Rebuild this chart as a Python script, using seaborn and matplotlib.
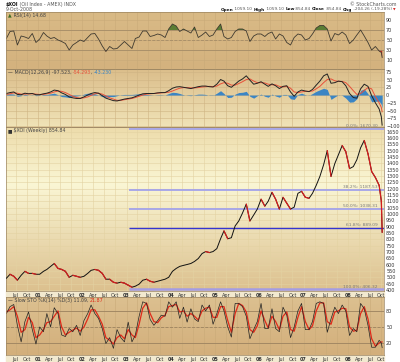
import matplotlib
matplotlib.use("Agg")
import matplotlib.pyplot as plt
import matplotlib.transforms as mtrans
from matplotlib.colors import LinearSegmentedColormap
from matplotlib.patches import Rectangle
import numpy as np
import pandas as pd
import seaborn as sns

# $XOI weekly chart (about one reading per month)
months = pd.date_range("2000-04-01", periods=102, freq="MS") + pd.Timedelta(days=14)
dates = pd.DatetimeIndex(list(months) + [pd.Timestamp("2008-10-03"), pd.Timestamp("2008-10-10")])

close = [493, 525, 509, 478, 517, 548, 532, 532, 525,
         525, 548, 563, 587, 610, 571, 563, 548, 501, 517, 509, 501,
         509, 532, 556, 563, 556, 532, 486, 486, 462, 455, 462, 455,
         439, 423, 431, 447, 478, 486, 470, 462, 470, 478, 486, 501,
         548, 571, 587, 595, 602, 610, 626, 649, 688, 704, 696, 704,
         727, 805, 867, 805, 813, 906, 945, 1008, 1078, 945, 992, 1039,
         1117, 1062, 1101, 1171, 1117, 1039, 1132, 1085, 1039, 1054, 1163, 1179,
         1132, 1124, 1163, 1226, 1296, 1389, 1500, 1296, 1397, 1467, 1540, 1491,
         1358, 1374, 1428, 1522, 1580, 1475, 1335, 1288, 1226, 1101, 854.84]

rsi = [53, 67, 68, 40, 58, 56, 53, 63, 45,
       52, 65, 58, 53, 55, 50, 47, 43, 30, 40, 45, 50,
       47, 55, 62, 63, 52, 38, 27, 37, 32, 33, 40, 47,
       40, 33, 53, 56, 68, 68, 57, 59, 62, 60, 55, 72,
       82, 78, 67, 72, 68, 64, 76, 55, 60, 66, 57, 60,
       72, 82, 57, 52, 55, 67, 72, 72, 68, 47, 58, 62,
       62, 57, 63, 66, 52, 62, 58, 45, 40, 55, 62, 60,
       50, 53, 62, 74, 79, 79, 72, 48, 63, 60, 66, 60,
       43, 50, 60, 70, 58, 45, 30, 37, 28, 25, 14.68]

macd = [5, 8, 10, 2, 1, 6, 4, 5, 1,
        1, 4, 6, 10, 16, 14, 7, 2, -6, -9, -11, -11,
        -6, 0, 5, 8, 6, -2, -10, -14, -18, -19, -16, -13,
        -11, -9, -5, 0, 4, 5, 5, 5, 7, 8, 8, 14,
        22, 26, 27, 25, 23, 21, 24, 27, 29, 29, 27, 26,
        35, 50, 45, 30, 25, 35, 45, 52, 62, 48, 35, 38,
        43, 35, 28, 36, 30, 21, 28, 30, 10, -4, 10, 16,
        13, 11, 18, 32, 45, 62, 68, 38, 40, 45, 43, 30,
        5, -8, -10, 20, 35, 28, -2, -25, -45, -70, -97.523]

signal = [2, 4, 7, 6, 3, 3, 4, 4, 3,
          2, 2, 4, 6, 10, 13, 12, 8, 2, -4, -8, -10,
          -9, -6, -1, 4, 6, 3, -3, -9, -13, -17, -17, -15,
          -13, -11, -8, -4, 0, 3, 4, 5, 6, 7, 8, 9,
          13, 18, 22, 24, 24, 23, 23, 24, 26, 27, 28, 27,
          29, 36, 40, 38, 32, 32, 37, 43, 50, 52, 45, 40,
          40, 39, 35, 33, 33, 28, 26, 28, 22, 10, 8, 10,
          12, 12, 13, 20, 28, 40, 50, 52, 46, 44, 44, 40,
          28, 14, 2, 5, 15, 24, 20, -5, -25, -40, -54.293]

hist = [3, 4, 3, -4, -2, 3, 0, 1, -2,
        -1, 2, 2, 4, 6, 1, -5, -6, -8, -5, -3, -1,
        3, 6, 6, 4, 0, -5, -7, -5, -5, -2, 1, 2,
        2, 2, 3, 4, 4, 2, 1, 0, 1, 1, 0, 5,
        9, 8, 5, 1, -1, -2, 1, 3, 3, 2, -1, -1,
        6, 14, 5, -8, -7, 3, 8, 9, 12, -4, -10, -2,
        3, -4, -7, 3, -3, -7, 2, 2, -12, -14, 2, 6,
        1, -1, 5, 12, 17, 22, 18, -14, -6, 1, -1, -10,
        -23, -22, -12, 15, 20, 4, -22, -20, -20, -30, -43.230]

stoch_k = [75, 88, 92, 53, 22, 60, 78, 45, 18,
           50, 41, 75, 50, 86, 75, 35, 32, 47, 41, 53, 34,
           62, 75, 91, 75, 66, 47, 19, 30, 10, 45, 30, 22,
           59, 22, 35, 70, 97, 94, 64, 53, 62, 72, 70, 97,
           87, 97, 66, 87, 59, 84, 65, 60, 91, 80, 91, 55,
           75, 97, 80, 50, 31, 94, 94, 88, 70, 28, 45, 60,
           94, 47, 47, 84, 47, 41, 87, 72, 30, 50, 80, 94,
           45, 45, 60, 94, 97, 94, 40, 65, 87, 75, 91, 80,
           34, 47, 41, 94, 84, 53, 12, 12, 25, 20, 11.09]

stoch_d = [78, 82, 88, 70, 40, 45, 68, 58, 30,
           35, 45, 58, 60, 70, 80, 50, 35, 40, 44, 48, 42,
           50, 65, 82, 82, 70, 55, 30, 25, 18, 30, 35, 28,
           45, 35, 30, 55, 85, 95, 75, 60, 58, 67, 72, 88,
           90, 92, 78, 80, 70, 75, 70, 63, 80, 85, 87, 68,
           68, 88, 88, 62, 40, 75, 94, 90, 78, 45, 40, 52,
           80, 62, 48, 70, 60, 45, 70, 78, 45, 42, 68, 88,
           60, 45, 52, 80, 95, 95, 60, 55, 78, 80, 85, 84,
           50, 42, 44, 75, 88, 65, 28, 14, 20, 22, 21.87]

fib_levels = [1670.30, 1187.53, 1038.31, 889.09, 406.32]
fib_names = ["0.0%", "38.2%", "50.0%", "61.8%", "100.0%"]
fib_colors = ["#a3a3ea", "#a3a3ea", "#a3a3ea", "#3434d0", "#a49ce4"]
fib_start = pd.Timestamp("2003-01-20")

sns.set_style("white")
plt.rcParams["font.family"] = "DejaVu Sans"

W, H = 400, 362
L, R = 6, 384
x0, x1 = pd.Timestamp("2000-04-12"), pd.Timestamp("2008-10-25")
qticks = pd.date_range("2000-07-01", "2008-10-01", freq="QS-JAN")
qlabels = [d.strftime("%y") if d.month == 1 else d.strftime("%b") for d in qticks]

fig = plt.figure(figsize=(W / 100, H / 100), dpi=100)
renderer = fig.canvas.get_renderer()


def make_panel(top, bottom, stops, grid_color):
    rect = [L / W, 1 - bottom / H, (R - L) / W, (bottom - top) / H]
    bg = fig.add_axes(rect, zorder=0)
    cmap = LinearSegmentedColormap.from_list("bg", stops)
    bg.imshow(np.linspace(0, 1, 256).reshape(-1, 1), cmap=cmap, aspect="auto", extent=[0, 1, 0, 1])
    bg.axis("off")
    ax = fig.add_axes(rect, zorder=1)
    ax.patch.set_alpha(0)
    ax.grid(True, color=grid_color, linewidth=0.4)
    ax.set_axisbelow(True)
    for s in ax.spines.values():
        s.set_color("#9b8461")
        s.set_linewidth(0.5)
    return ax


def finish(ax, ylim, yticks, show_dates):
    ax.set_xlim(x0, x1)
    ax.set_ylim(*ylim)
    ax.set_xticks(qticks)
    ax.set_yticks(yticks)
    ax.yaxis.tick_right()
    ax.tick_params(length=0, labelsize=3.5, colors="#333333", pad=1.5)
    ax.set_xlabel("")
    ax.set_ylabel("")
    if show_dates:
        ax.set_xticklabels(qlabels)
        for t in ax.get_xticklabels():
            if t.get_text().isdigit():
                t.set_fontweight("bold")
    else:
        ax.set_xticklabels([])


def run(x, y, parts, size=3.4, right=False):
    # consecutive pieces of text in pixel coords; with right=True the run ends at x
    texts = []
    for s, c, w in parts:
        texts.append(fig.text(0, 1 - y / H, s, color=c, fontsize=size, fontweight=w, va="center", ha="left"))
    widths = [t.get_window_extent(renderer).width for t in texts]
    if right:
        x -= sum(widths)
    for t, wd in zip(texts, widths):
        t.set_x(x / W)
        x += wd
    return x


# light strips under the price and stochastic panels
fig.patches.append(Rectangle((L / W, 1 - 297 / H), (R - L) / W, 6 / H, transform=fig.transFigure,
                             color="#f2e9cf", zorder=-1))
fig.patches.append(Rectangle((L / W, 0), (R - L) / W, 7 / H, transform=fig.transFigure,
                             color="#f2e9cf", zorder=-1))

# RSI
ax_rsi = make_panel(12, 69, [(0, "#d9ba86"), (1, "#d4b27e")], "#c9aa78")
sns.lineplot(x=dates, y=rsi, ax=ax_rsi, color="#3f3a30", linewidth=0.6)
r = np.array(rsi, dtype=float)
ax_rsi.fill_between(dates, r, 70, where=r > 70, interpolate=True, color="#5a7d34", linewidth=0)
ax_rsi.fill_between(dates, r, 30, where=r < 30, interpolate=True, color="#c8281e", linewidth=0)
for lv, ls in [(70, "-"), (50, "--"), (30, "-")]:
    ax_rsi.axhline(lv, color="#a58c67", linewidth=0.6, linestyle=ls, zorder=1)
finish(ax_rsi, (-8, 106), [10, 30, 50, 70, 90], False)

# MACD
ax_macd = make_panel(69, 127, [(0, "#dbbd8a"), (1, "#f0e3b7")], "#cfb483")
ax_macd.fill_between(dates, hist, 0, color="#3b85c4", linewidth=0)
sns.lineplot(x=dates, y=signal, ax=ax_macd, color="#e8503a", linewidth=0.7)
sns.lineplot(x=dates, y=macd, ax=ax_macd, color="#222222", linewidth=0.7)
finish(ax_macd, (-103, 84), [-100, -75, -50, -25, 0, 25, 50, 75], False)

# price
ax_p = make_panel(127, 291, [(0, "#eddcab"), (0.35, "#faf6d4"), (1, "#dcc08e")], "#e3d2a2")
blend = mtrans.blended_transform_factory(ax_p.transAxes, ax_p.transData)
for lv, nm, col in zip(fib_levels, fib_names, fib_colors):
    lw = 1.8 if nm == "100.0%" else (1.0 if nm == "61.8%" else 1.3)
    ax_p.hlines(lv, fib_start, x1, color=col, linewidth=lw, zorder=2)
    ax_p.text(0.984, lv + 6, f"{nm}: {lv:.2f}", transform=blend,
              ha="right", va="bottom", fontsize=3.2, color="#7a7a7a")
sns.lineplot(x=dates, y=close, ax=ax_p, color="#111111", linewidth=0.7, zorder=3)
for i in range(1, len(close)):
    if close[i] < close[i - 1]:
        ax_p.plot(dates[i - 1:i + 1], close[i - 1:i + 1], color="#d41e1e", linewidth=0.9, zorder=4)
finish(ax_p, (393, 1686), list(range(400, 1651, 50)), True)

# slow stochastic
ax_s = make_panel(297, 355, [(0, "#dcc090"), (1, "#d3af7b")], "#c9aa78")
for lv, ls in [(80, "-"), (50, "--"), (20, "-")]:
    ax_s.axhline(lv, color="#9c8360", linewidth=0.6, linestyle=ls, zorder=1)
sns.lineplot(x=dates, y=stoch_d, ax=ax_s, color="#e02a1a", linewidth=0.9)
sns.lineplot(x=dates, y=stoch_k, ax=ax_s, color="#222222", linewidth=0.5)
finish(ax_s, (-2.5, 106), [20, 50, 80], True)

# header
run(6, 4.5, [("$XOI", "#111111", "bold"), (" (Oil Index - AMEX) INDX", "#555555", "normal")])
run(6, 9.5, [("9-Oct-2008", "#555555", "normal")])
run(397, 4.5, [("\u00a9 StockCharts.com", "#555555", "normal")], right=True)
run(392, 9.5, [("Open", "#111111", "bold"), (" 1059.10 ", "#555555", "normal"),
               ("High", "#111111", "bold"), (" 1059.10 ", "#555555", "normal"),
               ("Low", "#111111", "bold"), (" 854.84 ", "#555555", "normal"),
               ("Close", "#111111", "bold"), (" 854.84 ", "#555555", "normal"),
               ("Chg", "#111111", "bold"), (" -204.26 (-19.28%)", "#555555", "normal")],
    size=3.1, right=True)
fig.text(393 / W, 1 - 9.5 / H, "\u25bc", fontsize=2.4, color="#d41e1e", ha="left", va="center")

# panel legends
run(8, 15, [("\u25b2", "#3d6b22", "normal"), (" RSI(14) 14.68", "#444444", "normal")])
run(8, 72.5, [("\u2014", "#222222", "normal"), (" MACD(12,26,9) -97.523, ", "#444444", "normal"),
              ("-54.293", "#e8503a", "normal"), (", ", "#444444", "normal"),
              ("-43.230", "#3b85c4", "normal")])
run(8, 130.5, [("\u25a0", "#333333", "normal"), (" $XOI (Weekly) 854.84", "#444444", "normal")])
run(8, 300.5, [("\u2014", "#222222", "normal"), (" Slow STO %K(14) %D(3) 11.09, ", "#444444", "normal"),
               ("21.87", "#e02a1a", "normal")])

fig.savefig("out.png", dpi=100, facecolor="white")
